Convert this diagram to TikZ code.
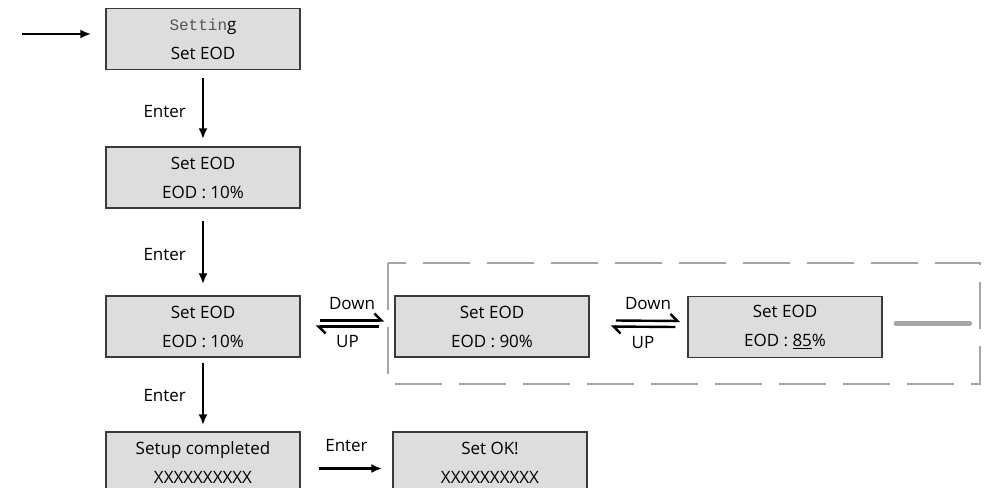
\documentclass[tikz,border=0pt]{standalone}
\usepackage{fontspec}
\setmainfont{Open Sans}
\setmonofont{Liberation Mono}
\usetikzlibrary{arrows.meta}
\definecolor{lcdfill}{HTML}{DCDDDC}
\definecolor{lcdedge}{HTML}{3A3A3A}
\definecolor{dashgray}{HTML}{A6A6A6}
\definecolor{monogray}{HTML}{555555}
\begin{document}
\begin{tikzpicture}[x=1pt,y=-1pt,
  lcd/.style={draw=lcdedge, fill=lcdfill, line width=1.5pt, minimum width=194pt,
    minimum height=61pt, inner sep=0pt, align=center,
    font=\fontsize{17}{29}\selectfont},
  flow/.style={line width=2.2pt, -{Latex[length=11pt,width=9pt]}},
  harp/.style={line width=2.4pt, -{Straight Barb[harpoon,length=7pt,angle'=90]}},
  lbl/.style={font=\fontsize{17}{19}\selectfont, inner sep=1pt},
  dashbox/.style={draw=dashgray, line width=2.5pt, dash pattern=on 47pt off 17pt},
  endbar/.style={draw=dashgray, line width=4.5pt, line cap=round}]
\useasboundingbox (0,0) rectangle (987,487);
\clip (0,0) rectangle (987,487);

% dashed group
\draw[dashbox] (388,263) rectangle (980,384);

% boxes
\node[lcd] (b1) at (203,39) {{\ttfamily\fontsize{16}{29}\selectfont\color{monogray}Settin}g\\Set EOD};
\node[lcd] (b2) at (203,177.5) {Set EOD\\EOD : 10\%};
\node[lcd] (b3) at (203,326.5) {Set EOD\\EOD : 10\%};
\node[lcd] (b4) at (203,462.5) {Setup completed\\XXXXXXXXXX};
\node[lcd] (b5) at (490,462.5) {Set OK!\\XXXXXXXXXX};
\node[lcd] (b6) at (492,326.5) {Set EOD\\EOD : 90\%};
\node[lcd] (b7) at (785,327) {Set EOD\\EOD : \underline{85}\%};

% entry arrow
\coordinate (s) at (22,34);
\draw[flow, shorten >=14pt] (s) -- (s -| b1.west);

% vertical flow
\draw[flow, shorten <=8pt, shorten >=7pt] (b1) -- (b2)
  node[lbl, midway, left=15pt, yshift=-3pt] {Enter};
\draw[flow, shorten <=12pt, shorten >=11pt] (b2) -- (b3)
  node[lbl, midway, left=15pt, yshift=-3pt] {Enter};
\draw[flow, shorten <=5pt, shorten >=6pt] (b3) -- (b4)
  node[lbl, midway, left=15pt, yshift=-1pt] {Enter};

% bottom arrow
\draw[flow, shorten <=18pt, shorten >=10pt] ([yshift=-6pt]b4.east) -- ([yshift=-6pt]b5.west)
  node[lbl, midway, above=15pt] {Enter};

% double arrows 1
\draw[harp] ([xshift=19pt,yshift=6pt]b3.east) -- ([xshift=-10pt,yshift=6pt]b6.west)
  node[lbl, midway, above=9pt] {Down};
\draw[harp] ([xshift=-15pt,yshift=0pt]b6.west) -- ([xshift=15pt,yshift=0pt]b3.east)
  node[lbl, midway, below=7pt] {UP};

% double arrows 2
\draw[harp] ([xshift=26pt,yshift=6pt]b6.east) -- ([xshift=-7pt,yshift=6pt]b7.west)
  node[lbl, midway, above=9pt] {Down};
\draw[harp] ([xshift=-12pt,yshift=0pt]b7.west) -- ([xshift=21pt,yshift=0pt]b6.east)
  node[lbl, midway, below=7pt] {UP};

% continuation bar
\draw[endbar] ([xshift=13pt,yshift=3.5pt]b7.east) -- ++(74,0);
\end{tikzpicture}
\end{document}
